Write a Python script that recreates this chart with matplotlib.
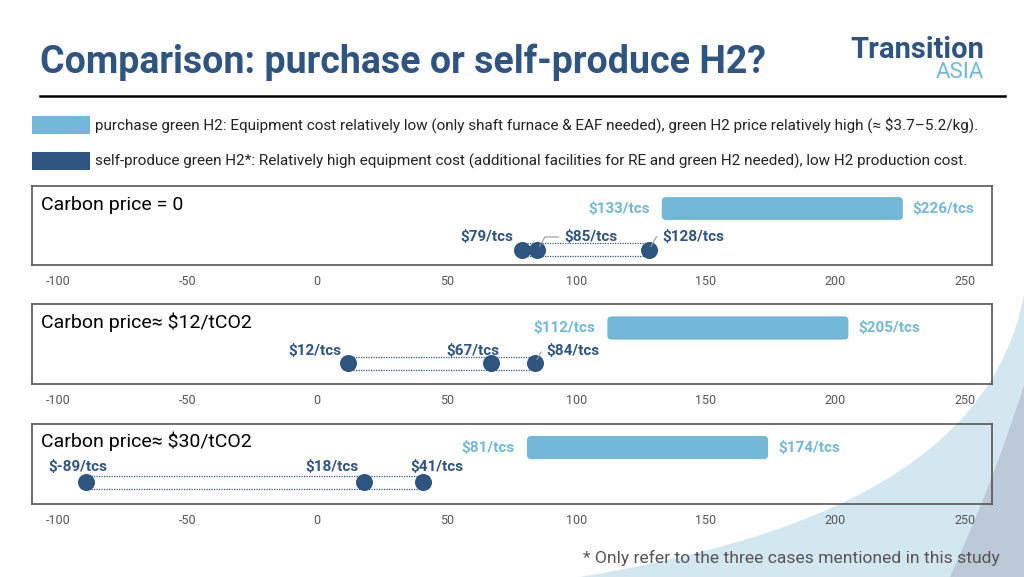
import matplotlib
matplotlib.use("Agg")
import matplotlib.pyplot as plt
from matplotlib.patches import FancyBboxPatch, Rectangle, PathPatch
from matplotlib.path import Path

plt.rcParams['font.family'] = ['Roboto', 'DejaVu Sans']

# ---------------- data ----------------
scenarios = ["Carbon price = 0", "Carbon price\u2248 $12/tCO2", "Carbon price\u2248 $30/tCO2"]
purchase_low = [133, 112, 81]
purchase_high = [226, 205, 174]
self_produce = [[79, 85, 128], [12, 67, 84], [-89, 18, 41]]
xticks = [-100, -50, 0, 50, 100, 150, 200, 250]
legend_labels = [
    "purchase green H2: Equipment cost relatively low (only shaft furnace & EAF needed), green H2 price relatively high (\u2248 $3.7\u20135.2/kg).",
    "self-produce green H2*: Relatively high equipment cost (additional facilities for RE and green H2 needed), low H2 production cost.",
]
title = "Comparison: purchase or self-produce H2?"
footnote = "* Only refer to the three cases mentioned in this study"

# ---------------- style ----------------
LIGHT = "#73B8D6"
DARK = "#2E5580"
TITLE_C = "#2F5480"
W, H = 1024, 577

# panel boxes in pixels (top, bottom)
panel_tb = [(186, 265), (304, 384), (424, 504)]
panel_lr = (32, 992)
bar_y = [0.715, 0.70, 0.706]
dot_y = [0.19, 0.26, 0.275]
# label placement per dot: (dx px, dy px, ha, leader)
dot_label_style = [
    [(-8, 13, 'right', False), (27, 13, 'left', True), (14, 13, 'left', True)],
    [(-7, 12, 'right', False), (-18, 12, 'center', False), (12, 12, 'left', True)],
    [(-9, 15, 'center', False), (-5, 15, 'right', False), (14, 15, 'center', False)],
]

fig = plt.figure(figsize=(W / 100, H / 100), dpi=100)

# background / decoration axes in pixel coordinates
bg = fig.add_axes([0, 0, 1, 1])
bg.set_xlim(0, W)
bg.set_ylim(H, 0)
bg.axis('off')

# decorative curves bottom-right
verts = [(580, 577), (800, 540), (990, 470), (1024, 295), (1024, 577), (580, 577)]
codes = [Path.MOVETO, Path.CURVE4, Path.CURVE4, Path.CURVE4, Path.LINETO, Path.CLOSEPOLY]
bg.add_patch(PathPatch(Path(verts, codes), facecolor="#D3E7F0", edgecolor="none", zorder=0))
verts2 = [(950, 577), (985, 500), (1010, 430), (1024, 385), (1024, 577), (950, 577)]
bg.add_patch(PathPatch(Path(verts2, codes), facecolor="#BCCAD7", edgecolor="none", zorder=0.5))

# title
bg.text(40, 62, title, fontsize=27, fontweight='bold', color=TITLE_C, va='center', ha='left')
# logo
bg.text(984, 50, "Transition", fontsize=21, fontweight='bold', color=TITLE_C, va='center', ha='right')
bg.text(984, 73, "ASIA", fontsize=16, color=LIGHT, va='center', ha='right')
# separator line
bg.plot([40, 1005], [96, 96], color='black', lw=1.8)

# legend
for i, (lab, col) in enumerate(zip(legend_labels, [LIGHT, DARK])):
    yc = 125 + i * 36
    bg.add_patch(Rectangle((32, yc - 9), 58, 18, facecolor=col, edgecolor='none'))
    bg.text(95, yc, lab, fontsize=11, color="#222222", va='center', ha='left')

bg.text(1000, 558, footnote, fontsize=12.6, color="#555555", va='center', ha='right')

for i, (name, lo, hi, pts) in enumerate(zip(scenarios, purchase_low, purchase_high, self_produce)):
    top, bot = panel_tb[i]
    l, r = panel_lr
    ax = fig.add_axes([l / W, 1 - bot / H, (r - l) / W, (bot - top) / H])
    ax.set_facecolor('none')
    ax.set_xlim(-110, 260.4)
    ax.set_ylim(0, 1)
    ax.set_yticks([])
    ax.set_xticks(xticks)
    ax.set_xticklabels([str(t) for t in xticks])
    ax.tick_params(axis='x', length=0, pad=7, labelsize=9, labelcolor="#555555")
    for s in ax.spines.values():
        s.set_color("#555555")
        s.set_linewidth(1.2)

    # aspect for rounded bar
    axh_px = bot - top
    axw_px = r - l
    upx = axw_px / (260.4 + 110)
    aspect = upx / axh_px
    bh = 0.29
    bar = FancyBboxPatch((lo, bar_y[i] - bh / 2), hi - lo, bh,
                         boxstyle="round,pad=0,rounding_size=1.6",
                         mutation_aspect=aspect, facecolor=LIGHT, edgecolor='none', zorder=2)
    ax.add_patch(bar)
    ax.annotate(f"${lo}/tcs", xy=(lo, bar_y[i]), xytext=(-12, 0), textcoords='offset pixels',
                ha='right', va='center', fontsize=11, fontweight='bold', color=LIGHT)
    ax.annotate(f"${hi}/tcs", xy=(hi, bar_y[i]), xytext=(10, 0), textcoords='offset pixels',
                ha='left', va='center', fontsize=11, fontweight='bold', color=LIGHT)

    # dotted connecting lines
    yd = dot_y[i]
    off = 6.5 / axh_px
    for yy in (yd + off, yd - off):
        ax.plot([min(pts), max(pts)], [yy, yy], ls=(0, (1, 1)), color=DARK, lw=0.9, zorder=2)
    ax.scatter(pts, [yd] * len(pts), s=150, color=DARK, zorder=3, linewidths=0)

    for v, (dx, dy, ha, leader) in zip(pts, dot_label_style[i]):
        kw = {}
        if leader:
            kw['arrowprops'] = dict(arrowstyle='-', color='#999999', lw=0.8, shrinkA=2, shrinkB=3,
                                    relpos=(0, 0.5),
                                    connectionstyle='angle,angleA=0,angleB=60,rad=0')
        ax.annotate(f"${v}/tcs", xy=(v, yd), xytext=(dx, dy), textcoords='offset pixels',
                    ha=ha, va='center', fontsize=11, fontweight='bold', color=DARK, zorder=4, **kw)

    ax.text(0.009, [0.76, 0.775, 0.79][i], name, transform=ax.transAxes, fontsize=14,
            color='black', va='center', ha='left')

fig.savefig("out.png", dpi=100)
